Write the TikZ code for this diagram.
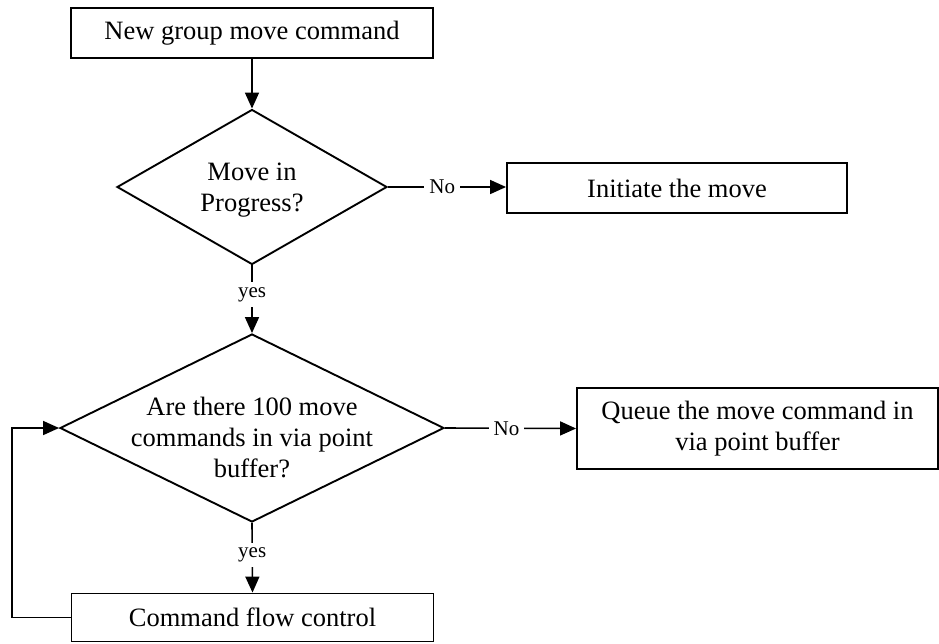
\documentclass[tikz,border=0pt]{standalone}
\usepackage{fontspec}
\setmainfont{Liberation Serif}
\usetikzlibrary{shapes.geometric,arrows.meta}
\begin{document}
\begin{tikzpicture}[x=1pt,y=-1pt,
  every node/.style={font=\fontsize{26.5}{31}\selectfont},
  procbox/.style={draw,line width=1.9pt,inner sep=0pt,align=center},
  decision/.style={draw,diamond,line width=1.9pt,inner sep=0pt,aspect=1},
  dtext/.style={align=center,inner sep=0pt},
  conn/.style={line width=1.6pt,-{Triangle[length=16pt,width=14pt]}},
  lbl/.style={fill=white,inner sep=5pt,font=\fontsize{21}{24}\selectfont}]
\useasboundingbox (0,0) rectangle (939,643);
\node[procbox,minimum width=362pt,minimum height=50pt] (b1) at (252,33) {New group move command};
\node[decision,minimum width=270pt,minimum height=155pt] (d1) at (252,187) {};
\node[dtext] (d1t) at (252,190) {Move in\\Progress?};
\node[procbox,minimum width=340pt,minimum height=50pt] (b2) at (677,188) {Initiate the move};
\node[decision,minimum width=384pt,minimum height=188pt] (d2) at (252,428) {};
\node[dtext] (d2t) at (252,437) {Are there 100 move\\commands in via point\\buffer?};
\node[procbox,minimum width=361pt,minimum height=81pt] (b3) at (757.5,428.5) {Queue the move command in\\via point buffer};
\node[procbox,minimum width=362pt,minimum height=48pt] (b4) at (252.5,617.5) {Command flow control};
\coordinate (fb) at (12,0);
\draw[conn] (b1.south) -- (d1.north);
\draw[conn] (d1.east) -- node[lbl,pos=0.46] (no1) {No} (d1.east -| b2.west);
\draw[conn] (d1.south) -- node[lbl,pos=0.43] (yes1) {yes} (d2.north);
\draw[conn] (d2.east) -- node[lbl,pos=0.47] (no2) {No} (b3.west);
\draw[conn] (d2.south) -- node[lbl,pos=0.46] (yes2) {yes} (b4.north);
\draw[conn] (b4.west) -- (b4.west -| fb) |- (d2.west);
\end{tikzpicture}
\end{document}
